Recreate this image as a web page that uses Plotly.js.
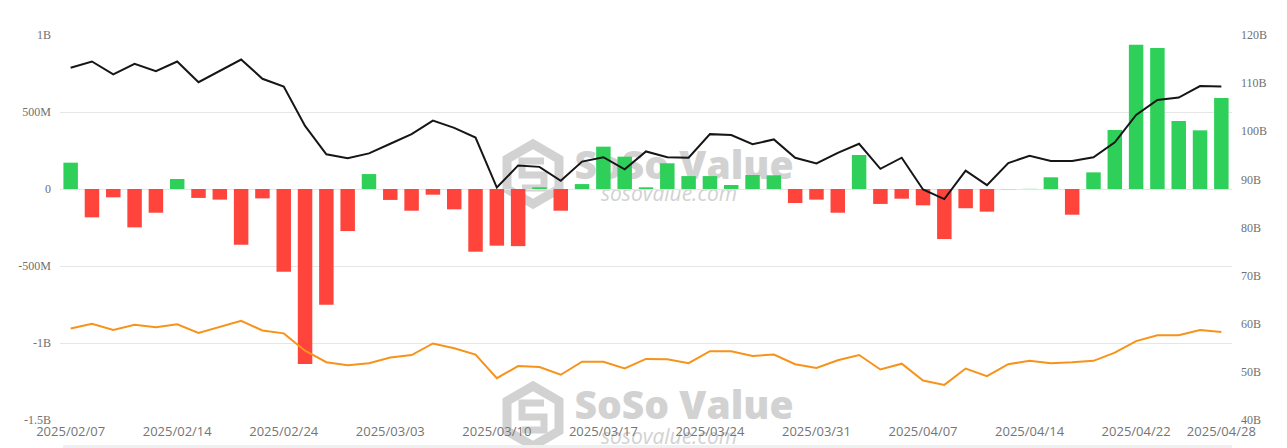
<!DOCTYPE html>
<html>
<head>
<meta charset="utf-8">
<script src="https://cdn.plot.ly/plotly-3.0.1.min.js"></script>
<style>
html,body{margin:0;padding:0;background:#fff;}
#chart{width:1287px;height:448px;}
</style>
</head>
<body>
<div id="chart"></div>
<script>
// ---- data ----
const dates = [
  "2025/02/07","2025/02/10","2025/02/11","2025/02/12","2025/02/13","2025/02/14",
  "2025/02/18","2025/02/19","2025/02/20","2025/02/21","2025/02/24","2025/02/25",
  "2025/02/26","2025/02/27","2025/02/28","2025/03/03","2025/03/04","2025/03/05",
  "2025/03/06","2025/03/07","2025/03/10","2025/03/11","2025/03/12","2025/03/13",
  "2025/03/14","2025/03/17","2025/03/18","2025/03/19","2025/03/20","2025/03/21",
  "2025/03/24","2025/03/25","2025/03/26","2025/03/27","2025/03/28","2025/03/31",
  "2025/04/01","2025/04/02","2025/04/03","2025/04/04","2025/04/07","2025/04/08",
  "2025/04/09","2025/04/10","2025/04/11","2025/04/14","2025/04/15","2025/04/16",
  "2025/04/17","2025/04/21","2025/04/22","2025/04/23","2025/04/24","2025/04/25",
  "2025/04/28"
];
// daily net inflow (USD)
const dailyNetInflow = [
  171e6,-184e6,-54e6,-249e6,-154e6,65e6,
  -58e6,-69e6,-362e6,-61e6,-537e6,-1136e6,
  -751e6,-273e6,97e6,-71e6,-141e6,-37e6,
  -132e6,-407e6,-368e6,-371e6,11e6,-141e6,
  32e6,275e6,210e6,11e6,167e6,84e6,
  84e6,26e6,91e6,89e6,-91e6,-69e6,
  -154e6,221e6,-97e6,-63e6,-106e6,-325e6,
  -125e6,-147e6,-1e6,1e6,76e6,-167e6,
  108e6,383e6,937e6,916e6,442e6,381e6,
  591e6
];
// total net assets (B USD)
const totalNetAssets = [
  113.2,114.5,111.8,114.0,112.5,114.5,
  110.2,112.6,114.9,110.9,109.3,101.1,
  95.2,94.4,95.4,97.4,99.4,102.2,
  100.7,98.7,88.3,92.9,92.6,89.7,
  93.7,94.6,92.1,95.8,94.6,94.5,
  99.4,99.2,97.3,98.3,94.5,93.3,
  95.5,97.4,92.2,94.5,87.9,85.9,
  91.8,88.8,93.4,94.9,93.8,93.8,
  94.6,97.7,103.4,106.5,107.0,109.4,
  109.3
];
// cumulative net inflow (B USD)
const cumulativeNetInflow = [
  59.0,60.0,58.7,59.8,59.3,59.9,
  58.1,59.3,60.6,58.6,58.0,54.4,
  52.0,51.4,51.8,53.0,53.5,55.9,
  54.9,53.6,48.7,51.2,51.0,49.4,
  52.1,52.1,50.7,52.7,52.6,51.8,
  54.3,54.3,53.3,53.6,51.6,50.8,
  52.4,53.5,50.5,51.7,48.2,47.3,
  50.7,49.1,51.6,52.3,51.8,52.0,
  52.3,54.0,56.4,57.6,57.6,58.7,
  58.3
];
const xTickDates = ["2025/02/07","2025/02/14","2025/02/24","2025/03/03","2025/03/10","2025/03/17",
  "2025/03/24","2025/03/31","2025/04/07","2025/04/14","2025/04/22","2025/04/28"];
const leftTickVals = [-1.5e9,-1e9,-5e8,0,5e8,1e9];
const leftTickText = ["-1.5B","-1B","-500M","0","500M","1B"];
const rightTickVals = [40,50,60,70,80,90,100,110,120];
const rightTickText = ["40B","50B","60B","70B","80B","90B","100B","110B","120B"];

// ---- styling ----
const GREEN = "#2fd05a", RED = "#ff453b";
const barColors = dailyNetInflow.map(v => v >= 0 ? GREEN : RED);

// decoration helpers (pixel -> paper)
const L = 60, R = 1232, T = 35, B = 420;
const px = x => (x - L) / (R - L);
const py = y => (B - y) / (B - T);
const WM = "#d2d2d2";

function toPath(pts, close) {
  return "M" + pts.map(p => px(p[0]).toFixed(5) + "," + py(p[1]).toFixed(5)).join(" L") + (close ? " Z" : "");
}
function hexPts(cx, cy, r) {
  const w = r * 0.866;
  return [[cx, cy - r],[cx + w, cy - r/2],[cx + w, cy + r/2],[cx, cy + r],[cx - w, cy + r/2],[cx - w, cy - r/2]];
}
function watermark(cx, cy, tx, ty, sy) {
  return [
    {type:"path", xref:"paper", yref:"paper", layer:"below", path: toPath(hexPts(cx, cy, 30), true), line:{color:WM, width:9}},
    {type:"path", xref:"paper", yref:"paper", layer:"below",
      path: toPath([[cx + 11, cy - 13],[cx - 11, cy - 13],[cx - 11, cy + 1],[cx + 11, cy + 1],[cx + 11, cy + 14],[cx - 11, cy + 14]], false),
      line:{color:WM, width:7}},
    {type:"rect", xref:"paper", yref:"paper", layer:"below",
      x0:px(tx-115), x1:px(tx+115), y0:py(ty+24), y1:py(ty-24), line:{width:0}, fillcolor:"rgba(0,0,0,0)",
      label:{text:"SoSo Value", textposition:"middle center",
        font:{family:"Open Sans, Arial, sans-serif", size:39, color:WM, weight:800}}},
    {type:"rect", xref:"paper", yref:"paper", layer:"below",
      x0:px(tx-80), x1:px(tx+50), y0:py(sy+12), y1:py(sy-12), line:{width:0}, fillcolor:"rgba(0,0,0,0)",
      label:{text:"sosovalue.com", textposition:"middle center",
        font:{family:"Open Sans, Arial, sans-serif", size:21, color:WM, style:"italic"}}}
  ];
}

const traces = [
  {type:"bar", x:dates, y:dailyNetInflow, marker:{color:barColors, line:{width:0}},
   width:0.68, yaxis:"y", hoverinfo:"x+y", showlegend:false},
  {type:"scatter", mode:"lines", x:dates, y:totalNetAssets, yaxis:"y2",
   line:{color:"#161616", width:2}, showlegend:false},
  {type:"scatter", mode:"lines", x:dates, y:cumulativeNetInflow, yaxis:"y2",
   line:{color:"#f7931a", width:2}, showlegend:false}
];

const layout = {
  width:1287, height:448,
  margin:{l:L, r:1287-R, t:T, b:448-B, pad:0},
  paper_bgcolor:"#fff", plot_bgcolor:"#fff",
  showlegend:false,
  bargap:0.32,
  xaxis:{type:"category", categoryorder:"array", categoryarray:dates,
    range:[-0.5, dates.length - 0.5],
    tickmode:"array", tickvals:xTickDates, ticktext:xTickDates,
    showgrid:false, zeroline:false, showline:false, ticks:"",
    tickangle:0, ticklabelstandoff:2,
    tickfont:{family:"Open Sans, sans-serif", size:13, color:"#757575"}},
  yaxis:{range:[-1.5e9, 1e9], tickmode:"array", tickvals:leftTickVals, ticktext:leftTickText,
    showgrid:true, gridcolor:"#e6e6e6", gridwidth:1, zeroline:false, showline:false, ticks:"",
    ticklabelstandoff:8,
    tickfont:{family:"Liberation Serif, Times New Roman, serif", size:12, color:"#707070"}},
  yaxis2:{range:[40,120], overlaying:"y", side:"right", tickmode:"array",
    tickvals:rightTickVals, ticktext:rightTickText,
    showgrid:false, zeroline:false, showline:false, ticks:"", ticklabelstandoff:8,
    tickfont:{family:"Liberation Serif, Times New Roman, serif", size:12, color:"#707070"}},
  shapes: [
    ...watermark(533, 174, 684, 166, 194),
    ...watermark(533, 416, 684, 406, 437),
    {type:"rect", xref:"paper", yref:"paper", layer:"below",
     x0:px(63), x1:px(1232), y0:py(445), y1:py(449), line:{width:0}, fillcolor:"#f0f0f0"}
  ]
};

Plotly.newPlot("chart", traces, layout, {displayModeBar:false, staticPlot:true});
</script>
</body>
</html>
